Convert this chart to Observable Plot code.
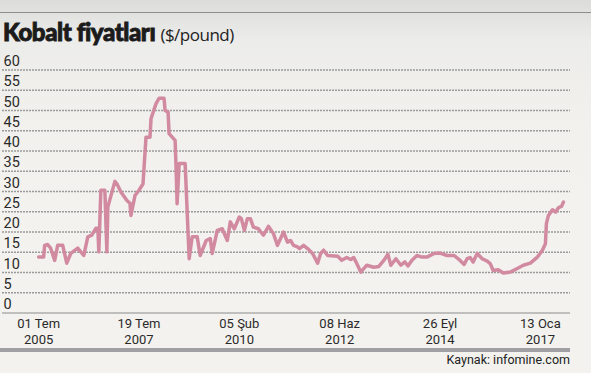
<!DOCTYPE html>
<html>
<head>
<meta charset="utf-8">
<script src="https://cdn.jsdelivr.net/npm/d3@7"></script>
<script src="https://cdn.jsdelivr.net/npm/@observablehq/plot@0.6"></script>
<style>
  html, body { margin: 0; padding: 0; }
  body { width: 591px; height: 373px; overflow: hidden; }
  #wrap {
    position: relative; width: 591px; height: 373px;
    background: linear-gradient(180deg, #dcdcda 0px, #ececea 40px, #f1f0ec 110px, #f3f2ee 200px, #f3f2ee 373px);
    font-family: "Open Sans", "DejaVu Sans", sans-serif;
  }
  #topline { position: absolute; left: 0; top: 12px; width: 591px; height: 1px; background: #8d8d8d; }
  #title { position: absolute; left: 3px; top: 17px; white-space: nowrap; color: #1b1b1b; }
  #title .main { font-family: Lato, "DejaVu Sans", sans-serif; font-weight: 900; font-size: 24px; letter-spacing: -0.4px; -webkit-text-stroke: 0.9px #1b1b1b; }
  #title .unit { font-family: "Open Sans", sans-serif; font-size: 17px; margin-left: 5px; letter-spacing: -0.5px; color: #222; }
  #bar { position: absolute; left: 0; top: 347.5px; width: 570px; height: 4px; background: #a09fa3; }
  #caption { position: absolute; right: 21px; top: 352px; font-size: 12.5px; color: #222; font-family: Roboto, sans-serif; }
  #chart { position: absolute; left: 0; top: 0; }
</style>
</head>
<body>
<div id="wrap">
  <div id="chart"></div>
  <div id="topline"></div>
  <div id="title"><span class="main">Kobalt fiyatları</span><span class="unit">($/pound)</span></div>
  <div id="bar"></div>
  <div id="caption">Kaynak: infomine.com</div>
</div>
<script>
// Sample position (ordinal index of observation) and price in $/pound
const idx = [0,5,6,9,12,16,19,24,28,32,39,45,49,53,57,59,60,62,66,68,69,76,78,82,88,91,92,96,100,104,107,111,112,117,120,125,126,129,130,136,137,138,140,146,150,153,158,161,167,171,173,178,183,188,191,195,200,202,205,208,211,214,219,224,229,234,238,244,248,251,254,258,260,264,268,273,278,281,284,288,298,302,307,311,314,317,321,327,334,339,344,348,351,356,361,365,368,372,377,382,387,394,400,407,414,419,424,427,430,433,437,442,447,450,453,458,463,470,477,483,490,497,502,505,506,508,512,515,518,521,523];
const price = [13.8,13.8,16.7,16.9,16.0,13.0,16.7,16.7,12.3,14.7,16.0,14.2,18.8,19.2,20.9,20.9,15.1,30.3,30.3,15.1,26.2,32.5,31.9,29.9,27.8,27.1,24.1,29.0,30.3,31.9,43.4,43.4,48.0,51.7,53.0,53.0,50.0,49.6,44.3,42.6,35.6,27.0,36.9,36.9,13.4,18.8,18.8,14.2,17.9,18.4,14.7,20.4,20.8,17.9,22.5,20.8,23.7,23.3,20.4,23.3,23.3,21.2,20.8,19.2,21.4,19.6,16.7,20.0,17.5,17.9,16.7,16.3,15.9,16.7,15.9,14.7,12.3,14.7,15.5,14.2,14.0,13.0,13.7,13.2,13.7,12.2,10.1,11.8,11.3,11.5,13.0,14.5,11.8,13.4,11.8,12.6,11.6,13.0,14.2,13.8,13.8,14.7,14.8,14.2,14.2,13.2,12.0,13.4,13.7,12.6,14.7,13.4,12.8,12.2,10.5,10.7,9.9,10.1,11.0,11.8,12.3,13.8,15.5,17.1,22.1,24.1,25.5,24.9,26.0,26.3,27.4];

// X-axis tick labels (placed at every 100th observation), two lines each
const tickIdx = [0, 100, 200, 300, 400, 500];
const tickDay = ["01 Tem", "19 Tem", "05 Şub", "08 Haz", "26 Eyl", "13 Oca"];
const tickYear = ["2005", "2007", "2010", "2012", "2014", "2017"];

// Y-axis ticks
const yTicks = [0,5,10,15,20,25,30,35,40,45,50,55,60];

const data = idx.map((x, i) => ({x, y: price[i]}));
const ticksX = tickIdx.map((x, i) => ({x, day: tickDay[i], year: tickYear[i]}));

const chart = Plot.plot({
  width: 591,
  height: 373,
  marginLeft: 2,
  marginRight: 21,
  marginTop: 69.5,
  marginBottom: 60.5,
  style: { background: "transparent", fontFamily: "Roboto, sans-serif", overflow: "visible" },
  x: { domain: [-36, 530], axis: null },
  y: { domain: [0, 60], axis: null },
  marks: [
    Plot.ruleY(yTicks.filter(d => d > 0), { stroke: "#9a9a9a", strokeWidth: 1.6, strokeDasharray: "2,1" }),
    Plot.ruleY([0], { stroke: "#8c8c8c", strokeWidth: 1.2 }),
    Plot.text(yTicks, { y: d => d, text: d => String(d), frameAnchor: "left", textAnchor: "start", dx: 1, dy: -8.5, fontSize: 14.5, fill: "#2a2a2a" }),
    Plot.text(ticksX, { x: "x", text: "day", frameAnchor: "bottom", lineAnchor: "middle", dy: 11, fontSize: 13, fill: "#2a2a2a" }),
    Plot.text(ticksX, { x: "x", text: "year", frameAnchor: "bottom", lineAnchor: "middle", dy: 26.5, fontSize: 13, fill: "#2a2a2a" }),
    Plot.line(data, { x: "x", y: "y", stroke: "#d28aa1", strokeWidth: 3.5, strokeLinejoin: "round", strokeLinecap: "round" })
  ]
});
document.getElementById("chart").appendChild(chart);
</script>
</body>
</html>
